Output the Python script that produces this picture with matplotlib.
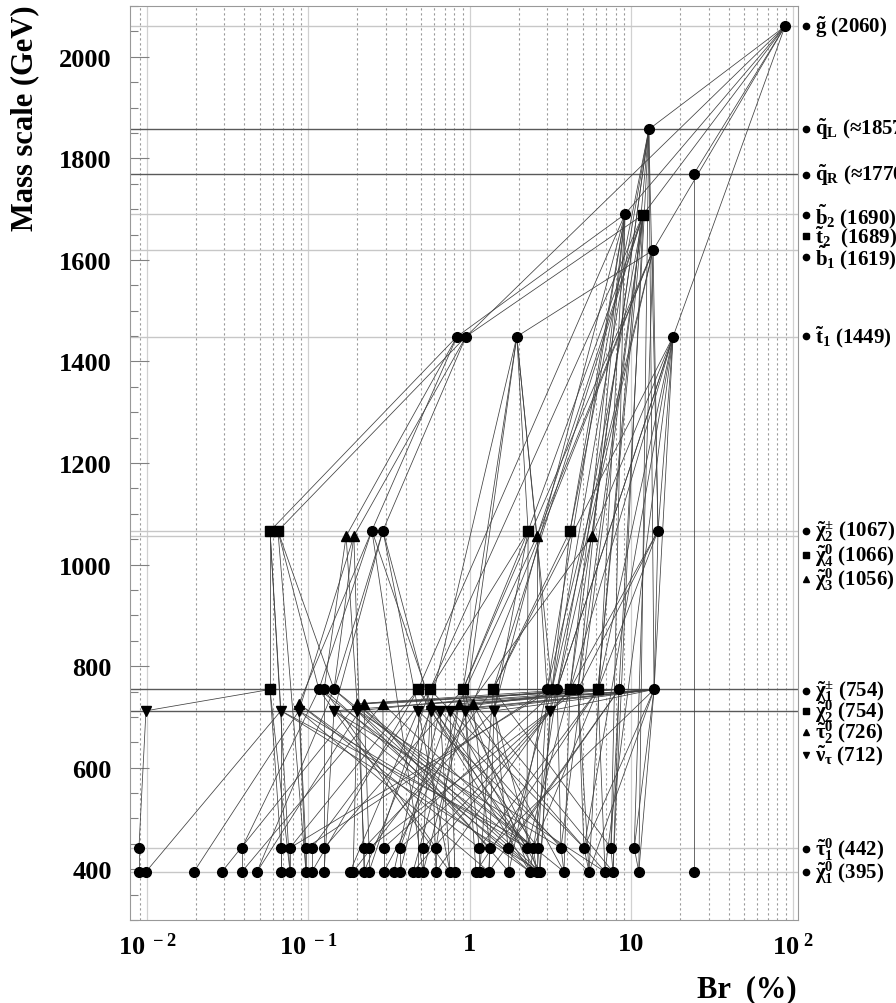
import matplotlib
matplotlib.use('Agg')
import matplotlib.pyplot as plt
from matplotlib.ticker import FixedLocator, FuncFormatter, NullFormatter
from matplotlib.transforms import blended_transform_factory

plt.rcParams['font.family'] = ['Liberation Serif', 'DejaVu Serif']
plt.rcParams['font.weight'] = 'bold'
plt.rcParams['mathtext.fontset'] = 'custom'
plt.rcParams['mathtext.rm'] = 'Liberation Serif:bold'
plt.rcParams['mathtext.it'] = 'Liberation Serif:bold'
plt.rcParams['mathtext.bf'] = 'Liberation Serif:bold'

# ---- masas de cada nivel (GeV) ----
mass = {'G': 2060, 'QL': 1857, 'QR': 1770, 'B2': 1690, 'T2': 1689, 'B1': 1619,
        'T1': 1449, 'C2': 1067, 'N4': 1066, 'N3': 1056, 'C1': 754, 'N2': 754,
        'S2': 726, 'SN': 712, 'S1': 442, 'N1': 395}

# ---- Br (%) de cada punto, por nivel ----
br_G = [89.2]
br_QL = [12.8]
br_QR = [24.4]
br_B2 = [9.12]
br_T2 = [11.8]
br_B1 = [13.6]
br_T1 = [0.831, 0.944, 1.95, 18.1]
br_C2 = [0.247, 0.289, 14.6]
br_N4 = [0.0578, 0.0647, 2.29, 4.16]
br_N3 = [0.171, 0.191, 2.60, 5.69]
br_C1 = [0.116, 0.125, 0.144, 3.00, 3.22, 3.46, 4.66, 8.37, 13.8]
br_N2 = [0.0578, 0.477, 0.565, 0.905, 1.39, 4.16, 6.20]
br_S2 = [0.0873, 0.200, 0.221, 0.289, 0.573, 0.855, 1.04]
br_SN = [0.00986, 0.0675, 0.0873, 0.144, 0.200, 0.477, 0.573, 0.652, 0.752,
         0.931, 1.41, 3.13]
br_S1 = [0.00892, 0.0387, 0.0675, 0.0768, 0.0965, 0.105, 0.125, 0.221, 0.237,
         0.293, 0.369, 0.512, 0.616, 1.14, 1.33, 1.72, 2.25, 2.46, 2.64, 3.66,
         5.08, 7.46, 10.4]
br_N1 = [0.00892, 0.00986, 0.01954, 0.0291, 0.0387, 0.0480, 0.0675, 0.0768,
         0.0965, 0.105, 0.125, 0.181, 0.189, 0.221, 0.237, 0.293, 0.338, 0.369,
         0.444, 0.477, 0.512, 0.616, 0.752, 0.807, 1.09, 1.15, 1.31, 1.74, 2.35,
         2.60, 2.71, 3.82, 5.46, 6.85, 7.68, 11.1, 24.4]

br = {'G': br_G, 'QL': br_QL, 'QR': br_QR, 'B2': br_B2, 'T2': br_T2, 'B1': br_B1,
      'T1': br_T1, 'C2': br_C2, 'N4': br_N4, 'N3': br_N3, 'C1': br_C1, 'N2': br_N2,
      'S2': br_S2, 'SN': br_SN, 'S1': br_S1, 'N1': br_N1}
marker = {'G': 'o', 'QL': 'o', 'QR': 'o', 'B2': 'o', 'T2': 's', 'B1': 'o',
          'T1': 'o', 'C2': 'o', 'N4': 's', 'N3': '^', 'C1': 'o', 'N2': 's',
          'S2': '^', 'SN': 'v', 'S1': 'o', 'N1': 'o'}

# ---- conexiones de las cadenas de decaimiento ----
edges = """
G.0 QL.0, G.0 QR.0, G.0 B2.0, G.0 T2.0, G.0 B1.0, G.0 T1.3, G.0 T1.1,
B2.0 T1.0, T2.0 T1.1, B1.0 T1.2, QR.0 N1.36,
T1.0 N4.0, T1.0 N3.0, T1.0 C2.0, T1.1 N4.1, T1.1 N3.1, T1.1 C2.1, T1.2 N4.2, T1.2 N3.2,
QL.0 C2.2, QL.0 N4.3, QL.0 N3.3, B1.0 C2.2, T1.3 C2.2, T1.3 N3.3, T2.0 N4.2, T2.0 N3.2,
B2.0 N4.3, B1.0 N3.2,
QL.0 C1.8, QL.0 N2.6, QL.0 C1.7, B2.0 N2.5, B2.0 C1.6, B2.0 N2.1, T2.0 C1.5, T2.0 N2.4,
T2.0 N2.2, B1.0 C1.4, B1.0 C1.3, T1.3 C1.8, T1.3 N2.6, T1.2 N2.3, T1.2 SN.9,
T1.3 N2.4, T1.3 SN.11, T1.3 C1.5, T1.3 N2.5, B1.0 N2.3, B1.0 S2.6, B2.0 SN.10,
B2.0 C1.3, T2.0 C1.6, T2.0 N2.6, QL.0 N2.5, QL.0 C1.4, T1.2 C1.4, T1.2 S2.4,
B2.0 S1.21, T2.0 N1.34, B1.0 S1.22, QL.0 N1.35, T1.3 N1.33, T1.3 S1.20,
B2.0 N1.32, T2.0 S1.19, N3.2 N1.29, N4.2 S1.16,
N4.0 N2.0, N4.1 C1.0, N4.0 SN.1, N3.0 C1.1, N3.1 C1.2, C2.0 C1.0, C2.1 C1.2, C2.0 S2.0,
C2.1 SN.3, N3.0 S2.1, N3.1 SN.2, N4.1 C1.2, C2.1 SN.6, C2.0 S2.4,
N4.2 N2.3, N4.2 N2.2, N4.2 SN.10, N3.2 C1.3, N3.2 S2.5, N4.3 N2.4, N4.3 C1.4, N3.3 C1.5,
N3.3 SN.9, C2.2 C1.8, C2.2 N2.6, C2.2 C1.6, C2.2 N2.5,
N4.0 N1.7, N4.1 N1.8, C2.0 N1.20, C2.1 N1.22, N3.1 N1.13,
C1.8 SN.11, C1.8 SN.10, C1.8 S2.6, C1.8 S2.5, C1.8 SN.9, C1.8 SN.8, C1.8 S2.4, C1.8 SN.7,
C1.8 N2.3, N2.6 SN.6, N2.6 S2.3, N2.6 S2.2, N2.6 SN.5, N2.5 S2.1, N2.5 SN.4, C1.7 S2.2,
C1.7 SN.3, SN.0 N2.0, SN.0 S1.0, N1.1 SN.1,
N2.0 S1.2, N2.0 N1.7, C1.0 S1.1, C1.0 N1.22, C1.0 S1.16, C1.1 S1.6, C1.1 N1.28, C1.1 S1.12,
C1.2 N1.5, C1.2 S1.17, C1.2 N1.29, SN.1 N1.6, SN.1 N1.30, SN.1 S1.18,
SN.2 N1.2, SN.2 N1.8, SN.2 S1.16, SN.2 N1.26, S2.0 S1.4, S2.0 N1.28, S2.0 S1.13,
SN.3 N1.10, SN.3 N1.29, SN.3 S1.19, S2.1 N1.3, S2.1 S1.7, S2.1 N1.30, S2.1 N1.31,
SN.4 N1.12, SN.4 S1.14, SN.4 N1.33, S2.2 N1.5, S2.2 S1.8, S2.2 N1.27,
S2.3 S1.9, S2.3 N1.4, S2.3 S1.17, N2.1 S1.3, N2.1 N1.9, N2.1 N1.28, N2.1 S1.18,
SN.5 N1.19, SN.5 N1.11, SN.5 N1.32, N2.2 S1.5, N2.2 N1.14, N2.2 S1.20,
S2.4 S1.11, S2.4 N1.16, S2.4 N1.29, SN.6 N1.21, SN.6 N1.13, SN.6 S1.16,
SN.7 N1.22, SN.7 N1.17, SN.7 S1.19, SN.8 N1.23, SN.8 S1.10, SN.8 N1.30,
S2.5 S1.12, S2.5 N1.18, S2.5 N1.33, N2.3 S1.6, N2.3 S1.13, N2.3 N1.28, N2.3 N1.34,
SN.9 N1.24, SN.9 N1.20, SN.9 S1.17, S2.6 S1.14, S2.6 N1.15, S2.6 N1.31,
N2.4 S1.15, N2.4 N1.25, N2.4 N1.12, N2.4 S1.21, SN.10 N1.26, SN.10 S1.7, SN.10 N1.29,
C1.3 S1.4, C1.3 N1.27, C1.3 S1.18, C1.4 S1.3, C1.4 N1.30, C1.4 S1.15,
C1.5 S1.9, C1.5 N1.28, C1.5 S1.19, SN.11 N1.30, SN.11 N1.21, SN.11 S1.10,
N2.5 S1.11, N2.5 N1.31, N2.5 N1.18, N2.5 S1.16, C1.6 S1.8, C1.6 N1.32, C1.6 S1.20,
N2.6 S1.13, N2.6 N1.33, N2.6 N1.24, N2.6 S1.17, C1.7 S1.21, C1.7 N1.34, C1.7 N1.26,
C1.7 S1.15, C1.8 S1.22, C1.8 N1.35, C1.8 S1.20, C1.8 N1.32, C1.8 S1.14,
S1.0 N1.0, S1.1 N1.4, S1.2 N1.6, S1.3 N1.7, S1.4 N1.8, S1.5 N1.9, S1.6 N1.10,
S1.7 N1.13, S1.8 N1.14, S1.9 N1.15, S1.10 N1.17, S1.11 N1.20, S1.12 N1.21,
S1.13 N1.25, S1.14 N1.26, S1.15 N1.27, S1.16 N1.28, S1.17 N1.29, S1.18 N1.30,
S1.19 N1.31, S1.20 N1.32, S1.21 N1.34, S1.22 N1.35
"""

# ---- lineas horizontales de cada masa: (masa, oscura?) ----
level_lines = [(2060, False), (1857, True), (1770, True), (1690, False),
               (1619, False), (1449, False), (1067, False), (1056, False),
               (754, True), (712, True), (442, False), (395, False)]

# ---- etiquetas de la derecha ----
label_text = [r'$\tilde{g}$ (2060)', r'$\tilde{q}_{L}$ (≈1857)',
              r'$\tilde{q}_{R}$ (≈1770)', r'$\tilde{b}_{2}$ (1690)',
              r'$\tilde{t}_{2}$  (1689)', r'$\tilde{b}_{1}$ (1619)',
              r'$\tilde{t}_{1}$ (1449)', r'$\tilde{\chi}^{\pm}_{2}$ (1067)',
              r'$\tilde{\chi}^{0}_{4}$ (1066)', r'$\tilde{\chi}^{0}_{3}$ (1056)',
              r'$\tilde{\chi}^{\pm}_{1}$ (754)', r'$\tilde{\chi}^{0}_{2}$ (754)',
              r'$\tilde{\tau}^{0}_{2}$ (726)', r'$\tilde{\nu}_{\tau}$ (712)',
              r'$\tilde{\tau}^{0}_{1}$ (442)', r'$\tilde{\chi}^{0}_{1}$ (395)']
label_marker = ['o', 'o', 'o', 'o', 's', 'o', 'o', 'o', 's', '^', 'o', 's', '^', 'v', 'o', 'o']
label_y = [2060, 1858, 1767, 1688, 1647, 1606, 1450, 1066, 1019, 972,
           751, 712, 670, 625, 440, 395]

x_min, x_max = 10 ** -2.105, 10 ** 2.031
y_min, y_max = 300, 2100

fig = plt.figure(figsize=(8.96, 10.04), dpi=100)
ax = fig.add_axes([130 / 896, 83 / 1004, 668 / 896, 914 / 1004])
ax.set_xscale('log')
ax.set_xlim(x_min, x_max)
ax.set_ylim(y_min, y_max)

# Grilla vertical: decadas solidas, menores punteadas
decades = [0.01, 0.1, 1, 10, 100]
for d in decades:
    ax.axvline(d, color='0.82', lw=0.9, zorder=0)
    for k in range(2, 10):
        if d * k < x_max:
            ax.axvline(d * k, color='0.6', lw=0.8, ls=(0, (2, 2.5)), zorder=0)
ax.axvline(0.01 * 0.9, color='0.6', lw=0.8, ls=(0, (2, 2.5)), zorder=0)

# Lineas de masa
for m, dark in level_lines:
    ax.axhline(m, color='0.35' if dark else '0.78', lw=1.0, zorder=1)

# Conexiones
for pair in edges.replace('\n', ' ').split(','):
    a, b = pair.split()
    la, ia = a.split('.')
    lb, ib = b.split('.')
    ax.plot([br[la][int(ia)], br[lb][int(ib)]], [mass[la], mass[lb]],
            color='0.25', lw=0.55, zorder=2)

# Puntos
sizes = {'o': 7, 's': 6.5, '^': 7.5, 'v': 7.5}
for lev in br:
    mk = marker[lev]
    ax.plot(br[lev], [mass[lev]] * len(br[lev]), ls='none', marker=mk,
            ms=sizes[mk], color='black', zorder=3)

# Ejes
for s in ax.spines.values():
    s.set_color('0.6')
ax.yaxis.set_major_locator(FixedLocator(range(400, 2001, 200)))
ax.yaxis.set_minor_locator(FixedLocator(range(300, 2101, 50)))
ax.tick_params(axis='y', which='major', direction='in', length=14, width=0.8,
               color='0.5', labelsize=19, pad=13)
ax.tick_params(axis='y', which='minor', direction='in', length=6, width=0.8, color='0.5')
ax.xaxis.set_major_locator(FixedLocator(decades))
ax.xaxis.set_minor_formatter(NullFormatter())
x_labels = {0.01: r'$10^{\ -2}$', 0.1: r'$10^{\ -1}$', 1: '1', 10: '10', 100: r'$10^{\ 2}$'}
ax.xaxis.set_major_formatter(FuncFormatter(lambda v, p: x_labels.get(round(v, 4), '')))
ax.tick_params(axis='x', which='both', direction='in', length=0, labelsize=19, pad=9)
for t in ax.get_yticklabels() + ax.get_xticklabels():
    t.set_fontweight('bold')

fig.text(0.028, 0.995, 'Mass scale (GeV)', rotation=90, ha='center', va='top',
         fontsize=22, fontweight='bold')
fig.text(797 / 896, 7 / 1004, 'Br  (%)', ha='right', va='baseline',
         fontsize=22, fontweight='bold')

# Etiquetas a la derecha del marco
trans = blended_transform_factory(fig.transFigure, ax.transData)
for txt, mk, y in zip(label_text, label_marker, label_y):
    ax.plot([806 / 896], [y], marker=mk, ms=4.5, color='black', ls='none',
            transform=trans, clip_on=False)
    ax.text(815 / 896, y, txt, transform=trans, ha='left', va='center',
            fontsize=15, fontweight='bold', clip_on=False)

fig.savefig('out.png', dpi=100)
